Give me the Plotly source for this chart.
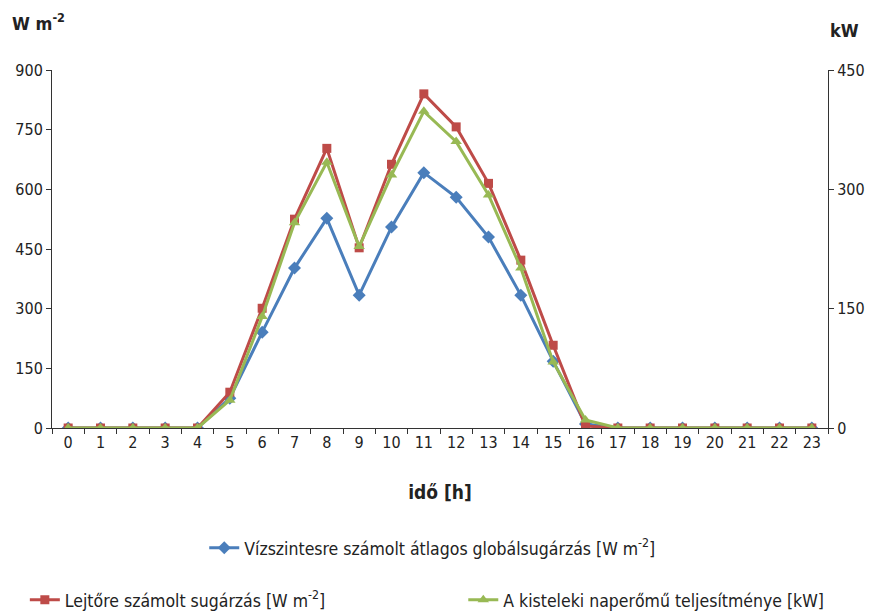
import plotly.graph_objects as go

hours = [str(h) for h in range(24)]
horizontal = [0, 0, 0, 0, 0, 75, 241, 402, 527, 334, 505, 642, 580, 480, 334, 168, 10, 0, 0, 0, 0, 0, 0, 0]
sloped = [0, 0, 0, 0, 0, 90, 301, 525, 703, 453, 663, 840, 757, 615, 422, 208, 5, 0, 0, 0, 0, 0, 0, 0]
power_kw = [0, 0, 0, 0, 0, 35, 140, 258, 334, 228, 318, 398, 360, 293, 201, 83, 10, 0, 0, 0, 0, 0, 0, 0]

name_h = "Vízszintesre számolt átlagos globálsugárzás [W m<sup>-2</sup>]"
name_s = "Lejtőre számolt sugárzás [W m<sup>-2</sup>]"
name_p = "A kisteleki naperőmű teljesítménye [kW]"

FONT = "DejaVu Sans Condensed, Roboto Condensed, Liberation Sans Narrow, Roboto, sans-serif"

fig = go.Figure()
fig.add_trace(go.Scatter(x=hours, y=horizontal, name=name_h, mode="lines+markers",
                         line=dict(color="#4a7ebb", width=3),
                         marker=dict(symbol="diamond", size=10, color="#4a7ebb"),
                         legend="legend"))
fig.add_trace(go.Scatter(x=hours, y=sloped, name=name_s, mode="lines+markers",
                         line=dict(color="#be4b48", width=3),
                         marker=dict(symbol="square", size=9, color="#be4b48"),
                         legend="legend2"))
fig.add_trace(go.Scatter(x=hours, y=power_kw, name=name_p, mode="lines+markers",
                         line=dict(color="#98b954", width=3),
                         marker=dict(symbol="triangle-up", size=10, color="#98b954"),
                         yaxis="y2", legend="legend3"))

leg = dict(orientation="h", yanchor="middle", font=dict(size=17.5),
           bgcolor="rgba(0,0,0,0)", itemwidth=30)

fig.update_layout(
    width=877, height=613,
    margin=dict(l=52, r=49, t=70, b=185, autoexpand=False),
    paper_bgcolor="white", plot_bgcolor="white",
    font=dict(family=FONT, size=15, color="#222"),
    xaxis=dict(type="category", tickson="boundaries", ticks="outside", ticklen=5,
               tickcolor="#333", showline=True, linecolor="#333", linewidth=1,
               showgrid=False, zeroline=False, range=[-0.5, 23.5], automargin=False,
               tickfont=dict(size=16),
               title=dict(text="<b>idő [h]</b>", font=dict(size=19), standoff=34)),
    yaxis=dict(range=[0, 900], dtick=150, ticks="outside", ticklen=5, tickcolor="#333",
               showline=True, linecolor="#333", linewidth=1, showgrid=False, zeroline=False,
               automargin=False, tickfont=dict(size=16)),
    yaxis2=dict(range=[0, 450], dtick=150, overlaying="y", side="right", ticks="outside",
                ticklen=5, tickcolor="#333", showline=True, linecolor="#333", linewidth=1,
                showgrid=False, zeroline=False, automargin=False, tickfont=dict(size=16)),
    legend=dict(leg, x=0.49, xanchor="center", y=-0.335),
    legend2=dict(leg, x=-0.035, xanchor="left", y=-0.48),
    legend3=dict(leg, x=0.53, xanchor="left", y=-0.48),
    showlegend=True,
    annotations=[
        dict(text="<b>W m<sup>-2</sup></b>", xref="paper", yref="paper", x=-0.054, y=1.134,
             xanchor="left", yanchor="middle", showarrow=False, font=dict(size=18)),
        dict(text="<b>kW</b>", xref="paper", yref="paper", x=1.0, y=1.11,
             xanchor="left", yanchor="middle", showarrow=False, font=dict(size=18)),
    ],
)

fig.write_html("out.html", config={"displayModeBar": False},
               post_script="document.body.style.margin='0px';document.body.style.overflow='hidden';")
